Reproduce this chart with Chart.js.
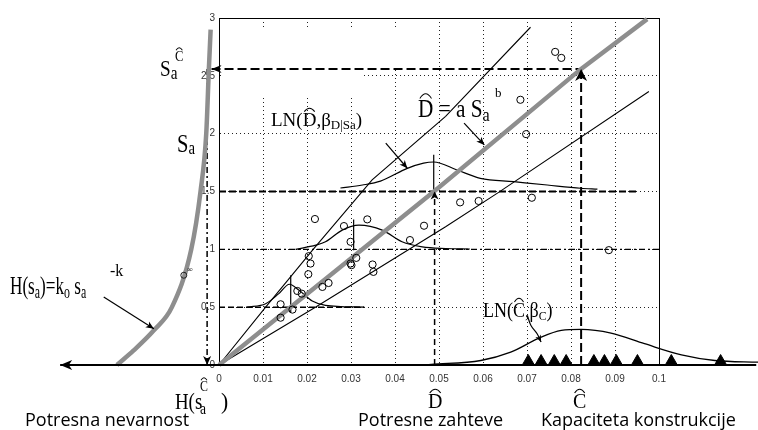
<!DOCTYPE html>
<html><head><meta charset="utf-8">
<script src="https://cdn.jsdelivr.net/npm/chart.js@4/dist/chart.umd.min.js"></script>
<style>html,body{margin:0;padding:0;background:#fff}canvas{display:block}</style>
</head><body>
<canvas id="c" width="758" height="430"></canvas>
<script>
// ---------------- data ----------------
const xTickValues = [0,0.01,0.02,0.03,0.04,0.05,0.06,0.07,0.08,0.09,0.1];
const xTickLabels = ['0','0.01','0.02','0.03','0.04','0.05','0.06','0.07','0.08','0.09','0.1'];
const yTickValues = [0,0.5,1,1.5,2,2.5,3];
const yTickLabels = ['0','0.5','1','1.5','2','2.5','3'];

// demand observations (D, Sa)
const demandD  = [0.0218,0.0284,0.0337,0.0299,0.0466,0.0434,0.0204,0.0208,0.0203,0.0299,0.0301,0.0312,0.0349,0.0351,0.0235,0.0249,0.0178,0.0188,0.0140,0.0167,0.0140,0.0764,0.0778,0.0685,0.0698,0.0548,0.0590,0.0711,0.0886];
const demandSa = [1.262,1.201,1.259,1.065,1.204,1.080,0.941,0.877,0.785,0.877,0.863,0.926,0.869,0.805,0.675,0.709,0.640,0.617,0.525,0.479,0.409,2.707,2.655,2.293,1.996,1.406,1.418,1.446,0.993];

// capacity observations (on the D axis)
const capacityC = [0.0703,0.0732,0.0762,0.0789,0.0852,0.0876,0.0903,0.0951,0.1028,0.1140];
const capacityY = [0.03,0.03,0.03,0.03,0.03,0.03,0.03,0.03,0.03,0.03];

// median demand model  D = a Sa^b
const medianD  = [0, 0.0492, 0.0823, 0.0973];
const medianSa = [0, 1.51, 2.56, 2.99];
// bounds
const upperD  = [0, 0.0106, 0.0214, 0.0348, 0.0515, 0.0708];
const upperSa = [0, 0.5, 1.0, 1.6, 2.15, 2.92];
const lowerD  = [0, 0.0219, 0.0515, 0.0632, 0.0977];
const lowerSa = [0, 0.5, 1.195, 1.484, 2.365];

// hazard curve H(sa) (drawn left of origin)
const hazardX = [-0.0232,-0.0194,-0.0148,-0.0107,-0.0063,-0.0042,-0.0029,-0.0023,-0.0019];
const hazardY = [0, 0.126, 0.30, 0.5, 1.0, 1.5, 2.0, 2.56, 2.90];

// LN(D|Sa) densities at Sa = 0.5, 1.0, 1.5
const lnD1X = [0.0064,0.0106,0.0136,0.0160,0.0182,0.0212,0.0242,0.0330];
const lnD1Y = [0.50,0.53,0.617,0.698,0.646,0.553,0.516,0.50];
const lnD2X = [0.0174,0.0220,0.0242,0.0280,0.0318,0.0371,0.0416,0.0462,0.0515,0.0570];
const lnD2Y = [1.0,1.036,1.065,1.166,1.209,1.166,1.065,1.021,1.007,1.003];
const lnD3X = [0.0276,0.0326,0.0367,0.0428,0.0465,0.0488,0.0541,0.0594,0.0670,0.0746,0.0822,0.0860];
const lnD3Y = [1.53,1.556,1.59,1.70,1.745,1.755,1.686,1.614,1.585,1.556,1.528,1.52];
// median ticks
const tick1X = [0.0163,0.0163], tick1Y = [0.458,0.776];
const tick2X = [0.0306,0.0306], tick2Y = [0.993,1.259];
const tick3X = [0.0488,0.0488], tick3Y = [1.50,1.817];

// LN(C) density
const lnCX = [0.0466,0.0482,0.0595,0.0663,0.0732,0.0778,0.0823,0.0891,0.0967,0.1051,0.1127,0.1226];
const lnCY = [0,0.005,0.039,0.111,0.241,0.299,0.308,0.276,0.184,0.088,0.039,0.024];

// axis and guide lines
const axisX = [-0.0361, 0.1221], axisY = [0, 0];
const saCX = [-0.0017, 0.0823], saCY = [2.56, 2.56];
const cHatX = [0.0823, 0.0823], cHatY = [0, 2.56];
const dHatX = [0.049, 0.049], dHatY = [0, 1.5];
const dropX = [-0.0027, -0.0027], dropY = [2.56, 0];
const lvl15X = [0, 0.095], lvl15Y = [1.5, 1.5];
const lvl10X = [0, 0.1], lvl10Y = [1.0, 1.0];
const lvl05X = [0, 0.033], lvl05Y = [0.5, 0.5];

// annotation arrows
const arrLnDX = [0.0379, 0.0428], arrLnDY = [1.918, 1.701];
const arrMedX = [0.0557, 0.0603], arrMedY = [2.091, 1.903];
const arrHazX = [-0.0262, -0.0148], arrHazY = [0.588, 0.314];
const arrLnCX = [0.0702, 0.0709, 0.0723, 0.0732], arrLnCY = [0.414, 0.342, 0.270, 0.198];
const strayX = [-0.0080], strayY = [0.776];

// ---------------- helpers ----------------
const xy = (xs, ys) => xs.map((x, i) => ({x: x, y: ys[i]}));
function ln(xs, ys, o) {
  return Object.assign({data: xy(xs, ys), showLine: true, pointRadius: 0, pointHoverRadius: 0,
    borderColor: '#000', borderWidth: 1.2, fill: false, clip: false, tension: 0}, o || {});
}
const GRAY = '#8e8e8e';

// datasets listed from bottom (first painted) to top
const paint = [
  ln(lvl10X, lvl10Y, {borderWidth: 1.2, borderDash: [6,3,2,3]}),
  ln(lvl05X, lvl05Y, {borderWidth: 1.5, borderDash: [6,3]}),
  ln(lvl15X, lvl15Y, {borderWidth: 1.8, borderDash: [7,3]}),
  ln(saCX, saCY, {borderWidth: 2, borderDash: [9,4], arrow: 'start', arrowSize: 10, arrowWidth: 4}),
  ln(cHatX, cHatY, {borderWidth: 2, borderDash: [9,4], arrow: 'end', arrowSize: 12, arrowWidth: 6}),
  ln(dHatX, dHatY, {borderWidth: 1.5, borderDash: [6,4], arrow: 'end', arrowSize: 8, arrowWidth: 4}),
  ln(dropX, dropY, {borderWidth: 1.5, borderDash: [6,3,2,3], arrow: 'end', arrowSize: 9, arrowWidth: 4}),
  ln(upperD, upperSa, {borderWidth: 1.1}),
  ln(lowerD, lowerSa, {borderWidth: 1.1}),
  ln(lnD1X, lnD1Y, {cubicInterpolationMode: 'monotone'}),
  ln(lnD2X, lnD2Y, {cubicInterpolationMode: 'monotone'}),
  ln(lnD3X, lnD3Y, {cubicInterpolationMode: 'monotone'}),
  ln(tick1X, tick1Y), ln(tick2X, tick2Y), ln(tick3X, tick3Y),
  ln(lnCX, lnCY, {cubicInterpolationMode: 'monotone', borderWidth: 1.3}),
  ln(medianD, medianSa, {borderColor: GRAY, borderWidth: 4.5}),
  ln(hazardX, hazardY, {borderColor: GRAY, borderWidth: 4.5, cubicInterpolationMode: 'monotone'}),
  ln(axisX, axisY, {borderWidth: 1.8, arrow: 'start', arrowSize: 12, arrowWidth: 5}),
  ln(arrLnDX, arrLnDY, {borderWidth: 1.2, arrow: 'end', arrowSize: 8, arrowWidth: 3.5}),
  ln(arrMedX, arrMedY, {borderWidth: 1.2, arrow: 'end', arrowSize: 8, arrowWidth: 3.5}),
  ln(arrHazX, arrHazY, {borderWidth: 1.2, arrow: 'end', arrowSize: 8, arrowWidth: 3.5}),
  ln(arrLnCX, arrLnCY, {borderWidth: 1.2, tension: 0.4, arrow: 'end', arrowSize: 7, arrowWidth: 3}),
  {data: xy(capacityC, capacityY), showLine: false, pointStyle: 'triangle', pointRadius: 7, pointHoverRadius: 7,
   pointBackgroundColor: '#000', pointBorderColor: '#000', pointBorderWidth: 1, clip: false},
  {data: xy(demandD, demandSa), showLine: false, pointStyle: 'circle', pointRadius: 3.6, pointHoverRadius: 3.6,
   pointBackgroundColor: 'rgba(255,255,255,0)', pointBorderColor: '#000', pointBorderWidth: 1, clip: false},
  {data: xy(strayX, strayY), showLine: false, pointStyle: 'circle', pointRadius: 3, pointHoverRadius: 3,
   pointBackgroundColor: 'rgba(255,255,255,0)', pointBorderColor: '#222', pointBorderWidth: 1, clip: false}
];
paint.forEach((d, i) => { d.order = paint.length - i; });

// ---------------- plugins ----------------
// blank patch of the grid behind the upper-left label area (as in the original figure)
const gridGapPlugin = {
  id: 'gridGap',
  beforeDatasetsDraw(chart) {
    const ctx = chart.ctx;
    ctx.save();
    ctx.fillStyle = '#fff';
    ctx.fillRect(221, 27, 140, 70);
    ctx.fillRect(390, 27, 9, 43);
    ctx.restore();
  }
};

// let marks that lie outside the framed box (hazard side, right tail) be drawn
const openAreaPlugin = {
  id: 'openArea',
  beforeDatasetsDraw(chart) {
    chart.$savedArea = chart.chartArea;
    chart.chartArea = {left: 0, top: 0, right: chart.width, bottom: chart.height, width: chart.width, height: chart.height};
  },
  afterDatasetsDraw(chart) {
    if (chart.$savedArea) chart.chartArea = chart.$savedArea;
  }
};

const arrowPlugin = {
  id: 'arrowHeads',
  afterDatasetsDraw(chart) {
    const ctx = chart.ctx;
    chart.data.datasets.forEach((ds, i) => {
      if (!ds.arrow) return;
      const pts = chart.getDatasetMeta(i).data;
      const n = pts.length;
      const tip = ds.arrow === 'end' ? pts[n - 1] : pts[0];
      const prev = ds.arrow === 'end' ? pts[n - 2] : pts[1];
      const a = Math.atan2(tip.y - prev.y, tip.x - prev.x);
      const L = ds.arrowSize || 9, W = ds.arrowWidth || 4;
      const c = Math.cos(a), s = Math.sin(a);
      ctx.save();
      ctx.setLineDash([]);
      ctx.fillStyle = '#000';
      ctx.beginPath();
      ctx.moveTo(tip.x, tip.y);
      ctx.lineTo(tip.x - L * c + W * s, tip.y - L * s - W * c);
      ctx.lineTo(tip.x - L * 0.72 * c, tip.y - L * 0.72 * s);
      ctx.lineTo(tip.x - L * c - W * s, tip.y - L * s + W * c);
      ctx.closePath();
      ctx.fill();
      ctx.restore();
    });
  }
};

const SERIF = '"Liberation Serif", "DejaVu Serif", serif';
function rich(ctx, x, y, segs, sx) {
  ctx.save();
  ctx.translate(x, y);
  ctx.scale(sx, 1);
  ctx.fillStyle = '#000';
  ctx.strokeStyle = '#000';
  ctx.textBaseline = 'alphabetic';
  let cx = 0;
  for (const g of segs) {
    ctx.font = g.s + 'px ' + SERIF;
    const w = ctx.measureText(g.t).width;
    const dy = g.dy || 0;
    ctx.fillText(g.t, cx, dy);
    if (g.hat) {
      const top = dy - g.s * 0.7;
      ctx.lineWidth = 1.1;
      ctx.beginPath();
      ctx.moveTo(cx + w * 0.12, top - 1);
      ctx.quadraticCurveTo(cx + w * 0.5, top - g.s * 0.42, cx + w * 0.88, top - 1);
      ctx.stroke();
    }
    cx += w;
  }
  ctx.restore();
}

const serifLabels = [
  {x: 160, y: 76, sx: 0.8, segs: [{t: 'S', s: 24}, {t: 'a', s: 19, dy: 3}]},
  {x: 175, y: 61, sx: 0.9, segs: [{t: 'C', s: 14, hat: true}]},
  {x: 177, y: 152, sx: 0.82, segs: [{t: 'S', s: 25}, {t: 'a', s: 18, dy: 2}]},
  {x: 271, y: 126, sx: 1, segs: [{t: 'LN(', s: 19}, {t: 'D', s: 19, hat: true}, {t: ',β', s: 19}, {t: 'D|Sa', s: 13, dy: 3}, {t: ')', s: 19}]},
  {x: 418, y: 117, sx: 0.85, segs: [{t: 'D', s: 25, hat: true}, {t: ' = a S', s: 25}, {t: 'a', s: 19, dy: 4}]},
  {x: 495, y: 97, sx: 1, segs: [{t: 'b', s: 13}]},
  {x: 10, y: 294, sx: 0.66, segs: [{t: 'H(s', s: 26}, {t: 'a', s: 18, dy: 4}, {t: ')=k', s: 26}, {t: 'o', s: 18, dy: 4}, {t: ' s', s: 26}, {t: 'a', s: 18, dy: 4}]},
  {x: 110, y: 276, sx: 1, segs: [{t: '-k', s: 16}]},
  {x: 175, y: 409, sx: 0.82, segs: [{t: 'H(s', s: 23}]},
  {x: 200, y: 414, sx: 0.85, segs: [{t: 'a', s: 16}]},
  {x: 200, y: 391, sx: 0.85, segs: [{t: 'C', s: 14, hat: true}]},
  {x: 221, y: 409, sx: 0.9, segs: [{t: ')', s: 24}]},
  {x: 428, y: 408, sx: 1, segs: [{t: 'D', s: 20, hat: true}]},
  {x: 573, y: 408, sx: 1, segs: [{t: 'C', s: 20, hat: true}]},
  {x: 483, y: 317, sx: 0.9, segs: [{t: 'LN(', s: 20}, {t: 'C', s: 20, hat: true}, {t: ',β', s: 20}, {t: 'C', s: 13, dy: 3}, {t: ')', s: 20}]},
  {x: 187, y: 272, sx: 1, segs: [{t: '∞', s: 8}]}
];
const sansLabels = [
  {t: 'Potresna nevarnost', x: 25, y: 426},
  {t: 'Potresne zahteve', x: 358, y: 426},
  {t: 'Kapaciteta konstrukcije', x: 541, y: 426}
];

const textPlugin = {
  id: 'texts',
  afterDraw(chart) {
    const ctx = chart.ctx;
    serifLabels.forEach(l => rich(ctx, l.x, l.y, l.segs, l.sx));
    ctx.save();
    ctx.fillStyle = '#000';
    ctx.font = '18px "Open Sans", "Noto Sans", sans-serif';
    ctx.textBaseline = 'alphabetic';
    sansLabels.forEach(l => ctx.fillText(l.t, l.x, l.y));
    ctx.restore();
  }
};

// ---------------- chart ----------------
new Chart(document.getElementById('c'), {
  type: 'scatter',
  data: {datasets: paint},
  options: {
    responsive: false,
    animation: false,
    devicePixelRatio: 1,
    layout: {padding: {left: 189, right: 99, top: 18, bottom: 41}},
    plugins: {legend: {display: false}, tooltip: {enabled: false}},
    scales: {
      x: {
        type: 'linear', position: 'bottom',
        afterDataLimits: s => { s.min = xTickValues[0]; s.max = xTickValues[xTickValues.length - 1]; },
        afterBuildTicks: s => { s.ticks = xTickValues.map(v => ({value: v})); },
        afterFit: s => { s.height = 24; },
        grid: {color: '#222', lineWidth: 1, drawTicks: false},
        border: {display: true, color: '#000', width: 1, dash: [1, 3]},
        ticks: {padding: 8, autoSkip: false, maxRotation: 0, color: '#333',
          font: {family: '"Liberation Sans", Arial, sans-serif', size: 10},
          callback: (v, i) => xTickLabels[i]}
      },
      y: {
        type: 'linear', position: 'left',
        afterDataLimits: s => { s.min = yTickValues[0]; s.max = yTickValues[yTickValues.length - 1]; },
        afterBuildTicks: s => { s.ticks = yTickValues.map(v => ({value: v})); },
        afterFit: s => { s.width = 30; },
        grid: {color: '#222', lineWidth: 1, drawTicks: false},
        border: {display: true, color: '#000', width: 1, dash: [1, 3]},
        ticks: {padding: 4, color: '#333',
          font: {family: '"Liberation Sans", Arial, sans-serif', size: 10},
          callback: (v, i) => yTickLabels[i]}
      },
      xTop: {
        type: 'linear', position: 'top', min: 0, max: 1,
        grid: {display: false, drawTicks: false}, ticks: {display: false},
        border: {display: true, color: '#000', width: 1},
        afterFit: s => { s.height = 0; }
      },
      yRight: {
        type: 'linear', position: 'right', min: 0, max: 1,
        grid: {display: false, drawTicks: false}, ticks: {display: false},
        border: {display: true, color: '#000', width: 1},
        afterFit: s => { s.width = 0; }
      }
    }
  },
  plugins: [gridGapPlugin, openAreaPlugin, arrowPlugin, textPlugin]
});
</script>
</body></html>
